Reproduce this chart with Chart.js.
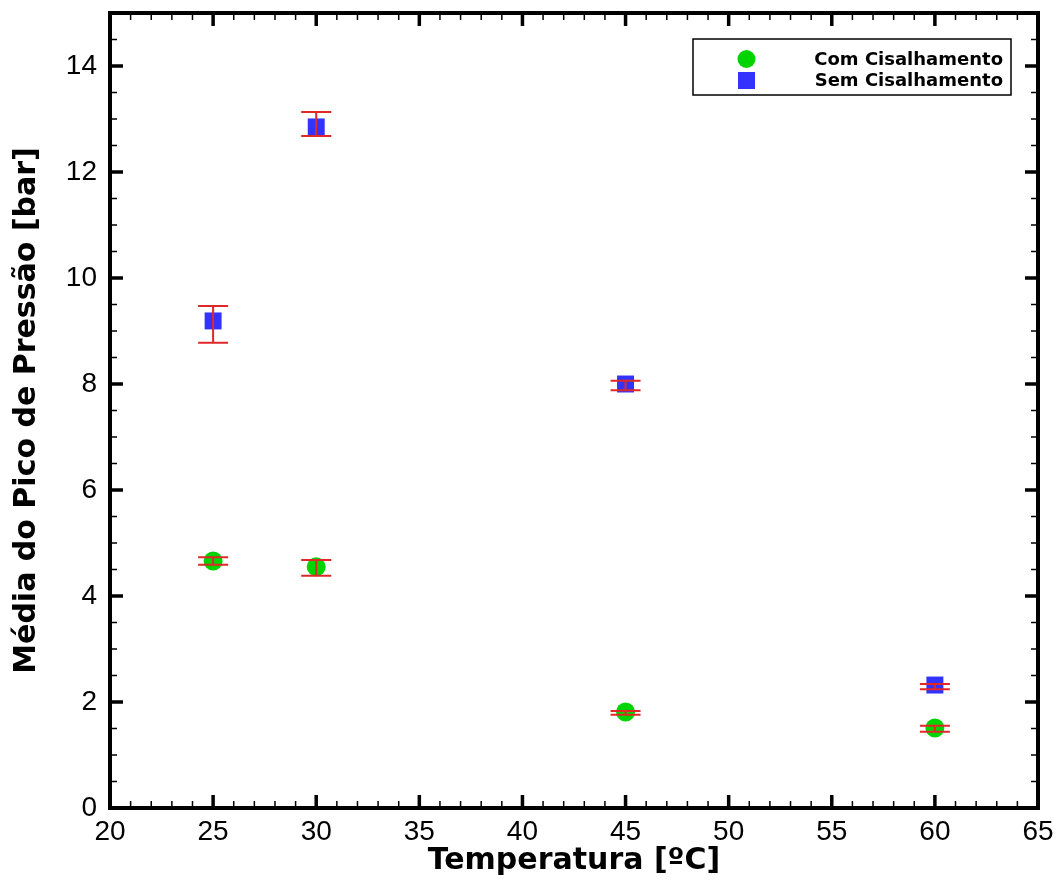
<!DOCTYPE html>
<html><head><meta charset="utf-8">
<script src="https://cdn.jsdelivr.net/npm/chart.js@4"></script>
<style>html,body{margin:0;padding:0;background:#fff}</style>
</head><body>
<canvas id="c" width="1062" height="880"></canvas>
<script>
const temps = [25, 30, 45, 60];
const comMean = [4.66, 4.55, 1.81, 1.51];
const comLow  = [4.59, 4.38, 1.76, 1.44];
const comHigh = [4.73, 4.68, 1.83, 1.55];
const semMean = [9.19, 12.85, 8.00, 2.32];
const semLow  = [8.78, 12.68, 7.88, 2.24];
const semHigh = [9.47, 13.13, 8.06, 2.34];
const seriesLabels = ['Com Cisalhamento', 'Sem Cisalhamento'];
const xTitle = 'Temperatura [ºC]';
const yTitle = 'Média do Pico de Pressão [bar]';

const FONT = "'Liberation Sans', Arial, sans-serif";
const BFONT = "'DejaVu Sans', 'Liberation Sans', sans-serif";

const errPlugin = {
  id: 'err',
  afterDatasetsDraw(chart) {
    const {ctx, scales: {x, y}} = chart;
    const sets = [[comLow, comHigh], [semLow, semHigh]];
    ctx.save();
    ctx.strokeStyle = '#e02828';
    ctx.lineWidth = 2;
    sets.forEach(([lo, hi]) => {
      temps.forEach((t, i) => {
        const px = x.getPixelForValue(t);
        const yl = y.getPixelForValue(lo[i]);
        const yh = y.getPixelForValue(hi[i]);
        ctx.beginPath();
        ctx.moveTo(px, yl); ctx.lineTo(px, yh);
        ctx.moveTo(px - 15, yl); ctx.lineTo(px + 15, yl);
        ctx.moveTo(px - 15, yh); ctx.lineTo(px + 15, yh);
        ctx.stroke();
      });
    });
    ctx.restore();
  }
};

const framePlugin = {
  id: 'frame',
  afterDraw(chart) {
    const {ctx, chartArea: a, scales: {x, y}} = chart;
    ctx.save();
    ctx.strokeStyle = '#000';
    for (let v = 20; v <= 65; v += 1) {
      const px = x.getPixelForValue(v);
      const major = v % 5 === 0;
      const len = major ? 13 : 7;
      ctx.lineWidth = major ? 3.5 : 1.5;
      ctx.beginPath();
      ctx.moveTo(px, a.bottom); ctx.lineTo(px, a.bottom - len);
      ctx.moveTo(px, a.top); ctx.lineTo(px, a.top + len);
      ctx.stroke();
    }
    for (let v = 0; v <= 15; v += 0.5) {
      const py = y.getPixelForValue(v);
      const major = v % 2 === 0;
      const len = major ? 13 : 7;
      ctx.lineWidth = major ? 3.5 : 1.5;
      ctx.beginPath();
      ctx.moveTo(a.left, py); ctx.lineTo(a.left + len, py);
      ctx.moveTo(a.right, py); ctx.lineTo(a.right - len, py);
      ctx.stroke();
    }
    ctx.lineWidth = 4;
    ctx.strokeRect(a.left, a.top, a.right - a.left, a.bottom - a.top);

    // legend
    const lx = 693, ly = 39, lw = 318, lh = 56;
    ctx.fillStyle = '#fff';
    ctx.fillRect(lx, ly, lw, lh);
    ctx.lineWidth = 1.5;
    ctx.strokeRect(lx, ly, lw, lh);
    ctx.fillStyle = '#00d400';
    ctx.beginPath(); ctx.arc(746.5, 59, 9, 0, Math.PI * 2); ctx.fill();
    ctx.fillStyle = '#3333ff';
    ctx.fillRect(738, 72, 17, 17);
    ctx.fillStyle = '#000';
    ctx.font = 'bold 18px ' + BFONT;
    ctx.textAlign = 'right';
    ctx.textBaseline = 'middle';
    ctx.fillText(seriesLabels[0], 1003, 60);
    ctx.fillText(seriesLabels[1], 1003, 81);
    ctx.restore();
  }
};

new Chart(document.getElementById('c'), {
  type: 'scatter',
  data: {
    datasets: [
      {
        label: seriesLabels[0],
        data: temps.map((t, i) => ({x: t, y: comMean[i]})),
        pointStyle: 'circle', pointRadius: 9.5,
        backgroundColor: '#00d400', borderColor: '#00d400', borderWidth: 0
      },
      {
        label: seriesLabels[1],
        data: temps.map((t, i) => ({x: t, y: semMean[i]})),
        pointStyle: 'rect', pointRadius: 12,
        backgroundColor: '#3333ff', borderColor: '#3333ff', borderWidth: 0
      }
    ]
  },
  options: {
    responsive: false,
    animation: false,
    layout: {padding: {top: 13, right: 24, left: 0, bottom: 0}},
    plugins: {legend: {display: false}, tooltip: {enabled: false}},
    scales: {
      x: {
        type: 'linear', min: 20, max: 65,
        grid: {display: false, drawTicks: false}, border: {display: false},
        ticks: {stepSize: 5, color: '#000', font: {family: FONT, size: 28}, padding: 7, maxRotation: 0},
        title: {display: true, text: xTitle, color: '#000', font: {family: BFONT, size: 30, weight: 'bold'}, padding: {top: 0, bottom: 1}},
        afterFit(s) { s.height = 72; s.paddingLeft = 0; s.paddingRight = 0; }
      },
      y: {
        type: 'linear', min: 0, max: 15,
        grid: {display: false, drawTicks: false}, border: {display: false},
        ticks: {stepSize: 2, color: '#000', font: {family: FONT, size: 28}, padding: 13,
          callback: v => (v % 2 === 0 ? String(v) : '')},
        title: {display: true, text: yTitle, color: '#000', font: {family: BFONT, size: 30, weight: 'bold'}, padding: {top: 9, bottom: 0}},
        afterFit(s) { s.width = 110; s.paddingTop = 0; s.paddingBottom = 0; }
      }
    }
  },
  plugins: [errPlugin, framePlugin]
});
</script>
</body></html>
